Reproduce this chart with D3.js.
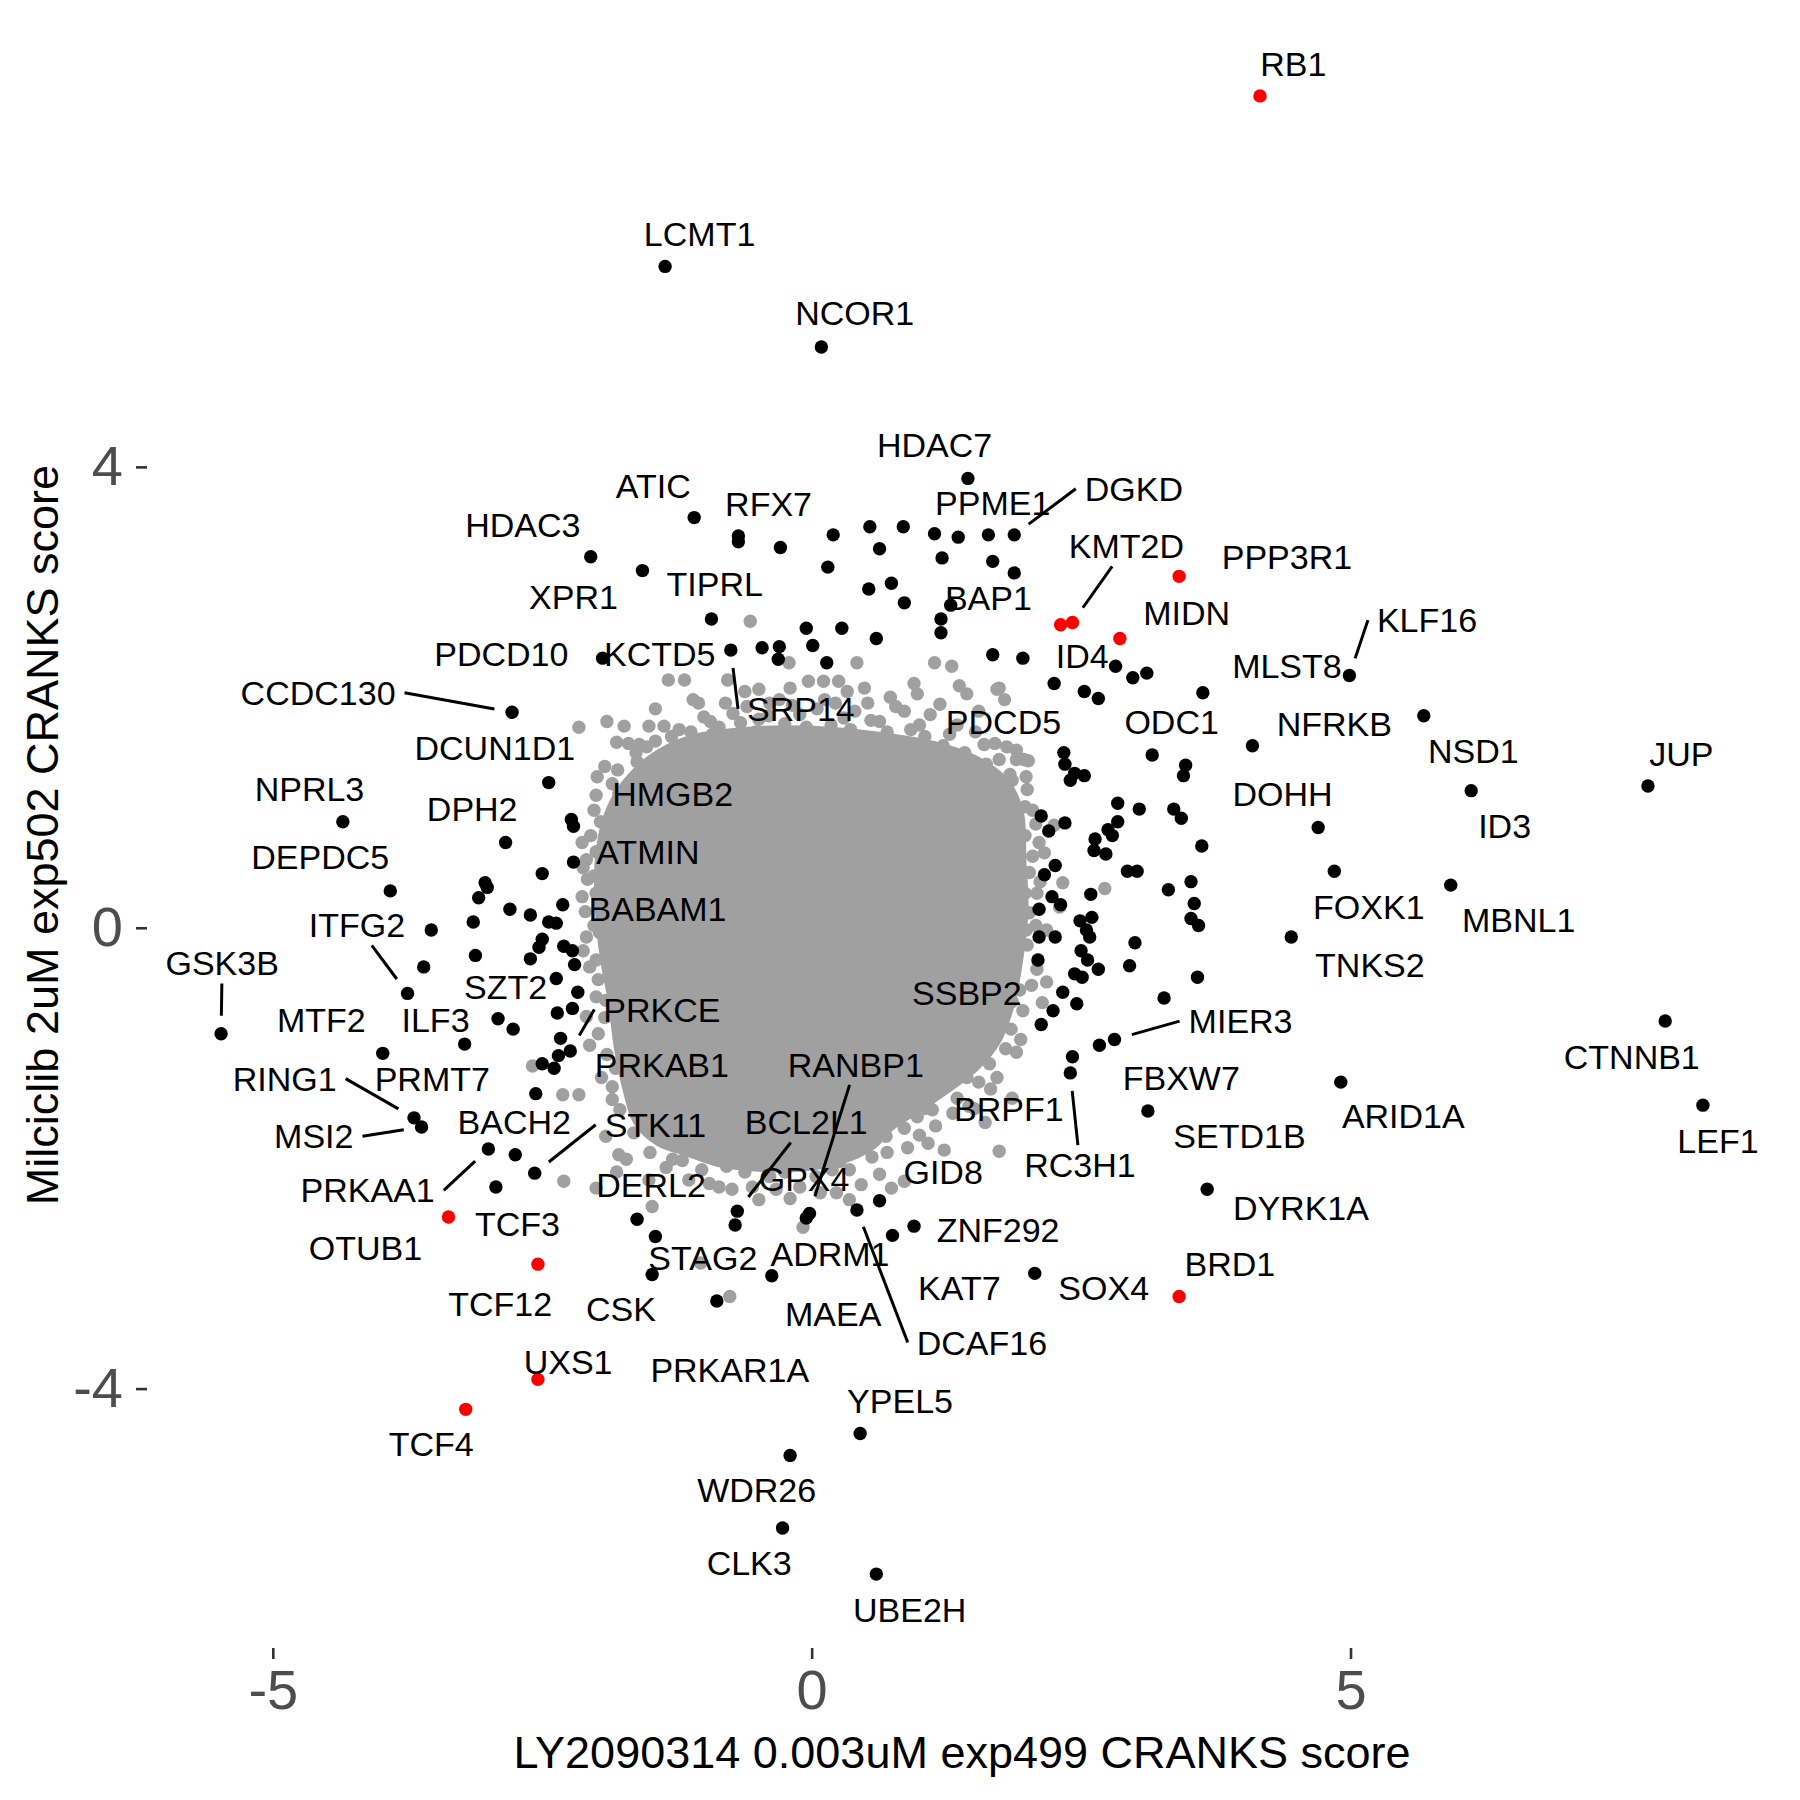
<!DOCTYPE html>
<html lang="en">
<head>
<meta charset="utf-8">
<title>CRANKS score comparison</title>
<script src="https://d3js.org/d3.v7.min.js"></script>
<style>
html,body {margin:0; padding:0; background:#fff;}
svg {display:block;}
</style>
</head>
<body>
<script>
// x = LY2090314 0.003uM exp499, y = Milciclib 2uM exp502 (CRANKS scores)

// dense middle of the grey (non-hit) cloud, outline only
const greyCore = [[-1.46,1.46],[-1.14,1.61],[-0.67,1.68],[-0.21,1.70],[0.26,1.68],[0.72,1.63],[1.14,1.56],[1.51,1.44],[1.79,1.24],[1.91,0.98],[1.93,0.59],[1.95,0.16],[1.90,-0.28],[1.82,-0.67],[1.70,-0.97],[1.51,-1.19],[1.28,-1.36],[1.00,-1.54],[0.72,-1.71],[0.54,-1.88],[0.26,-2.00],[-0.11,-2.06],[-0.49,-2.06],[-0.86,-2.02],[-1.14,-1.93],[-1.41,-1.84],[-1.60,-1.67],[-1.69,-1.41],[-1.77,-1.06],[-1.83,-0.63],[-1.90,-0.28],[-1.95,0.16],[-1.95,0.59],[-1.88,0.94],[-1.74,1.20]]

// grey points around the edge of the cloud
const greyPts = [
  [-0.57,2.66],[-1.33,2.15],[-1.18,2.15],[-1.05,1.95],[-0.78,2.15],[-0.73,1.86],[-0.03,2.14],[0.11,2.14],[0.25,2.14],[0.42,2.30],[0.98,2.03],[1.14,2.30],[1.30,2.27],[1.37,2.10],[1.44,2.03],[1.72,2.07],[0.73,2.00],[-1.51,1.75],[-1.37,1.75],[-1.74,1.75],[-1.90,1.79],[-0.94,1.79],[-0.39,1.95],[0.52,1.95],[1.90,1.54],[2.01,1.45],[-0.21,2.30],
  [-0.49,1.81],[-0.11,1.85],[0.30,1.82],[0.63,1.79],[1.00,1.76],[1.28,1.68],[1.60,1.59],[-1.23,1.72],[-0.86,1.74],[-1.60,1.59],[1.74,1.46],[1.84,1.33],[-0.30,1.98],[0.12,1.98],[0.86,1.88],[1.19,1.94],[-0.49,2.07],[0.49,2.08],
  [-1.45,1.62],[-1.30,1.66],[-1.12,1.70],[-1.00,1.83],[-0.92,1.68],[-0.80,1.95],[-0.66,1.78],[-0.60,1.92],[-0.52,1.70],[-0.40,1.84],[-0.25,1.77],[-0.18,1.93],[-0.05,1.74],[0.05,1.90],[0.18,1.76],[0.22,1.95],[0.36,1.72],[0.40,1.88],[0.55,1.80],[0.70,1.70],[0.78,1.92],[0.92,1.72],[1.05,1.66],[1.10,1.85],[1.22,1.58],[1.35,1.76],[1.42,1.52],[1.52,1.70],[1.62,1.42],[1.70,1.60],[1.55,1.88],[0.95,2.12],[0.33,2.05],[-0.20,2.08],[-0.62,2.05],[-1.10,1.98],[-1.45,1.90],[-1.70,1.60],[-1.62,1.44],
  [1.74,2.08],[1.79,1.98],[1.81,1.57],[1.90,1.46],[1.97,1.46],[1.99,1.31],[1.86,1.28],[1.81,1.20],[2.05,1.02],[1.91,1.00],[2.25,0.89],[2.11,0.74],[2.05,0.62],[2.16,0.65],[2.33,0.39],[2.72,0.34],[2.09,0.30],[2.02,0.13],[2.30,0.18],[2.18,-0.02],[1.99,-0.02],[2.18,-0.47],[2.09,-0.36],[2.14,-0.65],[1.93,-0.54],[1.94,-0.97],[1.90,-1.08],[1.72,-1.30],[1.86,-1.48],[1.51,-1.57],[1.74,-1.94],[1.08,-1.87],[0.98,-1.64],[1.05,-1.57],[1.44,-1.30],[1.55,-1.34],[1.22,-1.08],[1.44,-1.10],[1.58,-1.01],[1.76,-0.81],[1.86,-0.64],
  [2.00,1.20],[1.98,1.05],[2.08,0.90],[1.98,0.80],[2.02,0.48],[2.12,0.40],[1.98,0.30],[2.08,0.02],[2.00,-0.15],[2.04,-0.50],[1.96,-0.72],[1.85,-0.88],[1.80,-1.05],[1.66,-1.40],
  [-0.92,-1.95],[-0.79,-2.07],[-0.86,-2.25],[-0.74,-2.27],[-0.39,-2.16],[-0.33,-2.27],[-0.11,-2.25],[0.04,-2.16],[0.19,-2.10],[0.26,-2.03],[0.23,-2.30],[0.46,-2.23],[0.63,-2.14],[0.56,-1.99],[0.86,-2.20],[0.86,-1.74],[0.89,-1.91],[1.61,-1.69],[-0.08,-2.60],[-0.76,-3.20],[0.47,-1.87],[0.69,-1.81],[0.81,-1.64],[1.12,-1.58],[1.31,-1.61],[1.46,-1.55],[-1.03,-2.91],[-1.29,-2.01],[-1.48,-2.42],[-2.00,-2.26],[-2.30,-2.20],[-1.81,-2.12],[-1.72,-2.01],[-1.79,-1.97],[-1.91,-1.81],[-1.85,-1.49],[-1.85,-1.38],[-1.69,-1.29],[-2.16,-1.45],[-2.31,-1.45],[-2.59,-1.20],[-2.06,-1.02],[-2.09,-0.77],[-1.91,-0.63],[-1.85,-0.49],[-2.06,-0.34],[-0.49,-2.36],[-1.14,-2.19],[-1.51,-2.19],[0.35,-2.36],[1.23,-1.93],
  [-1.50,-1.95],[-1.35,-2.08],[-1.20,-2.02],[-1.02,-2.10],[-0.95,-2.22],[-0.62,-2.12],[-0.55,-2.25],[-0.25,-2.12],[-0.20,-2.35],[0.08,-2.30],[0.12,-2.05],[0.35,-2.10],[0.40,-1.95],[0.70,-1.95],[0.74,-2.26],[1.00,-1.80],[1.15,-1.72],[1.35,-1.48],[1.65,-1.18],
  [-2.16,1.74],[-1.81,1.61],[-1.63,1.52],[-1.53,1.57],[-1.39,1.46],[-1.99,1.31],[-1.80,1.37],[-1.57,1.37],[-2.13,0.74],[-2.09,0.59],[-2.08,0.42],[-2.13,0.27],[-2.09,-0.08],[-1.97,-0.04],[-1.79,0.68],[-1.69,0.88],[-1.79,1.17],[-1.39,1.11],[-1.53,1.28],[-2.02,1.02],
  [-1.92,1.40],[-1.85,1.25],[-2.00,1.15],[-1.96,0.92],[-2.05,0.80],[-2.00,0.66],[-2.12,0.52],[-2.02,0.45],[-2.00,0.30],[-2.10,0.14],[-2.02,0.02],[-2.12,-0.20],[-2.00,-0.28],[-1.98,-0.45],[-2.00,-0.60],[-1.92,-0.78],[-1.98,-0.92],[-1.90,-1.10],[-1.82,-1.22],[-1.78,-1.58],[-1.65,-1.78],[-1.95,-1.30]
]

// hits
const blackPts = [
  [-1.36,5.74],[0.09,5.04],[1.45,3.90],[-1.09,3.56],[-0.68,3.40],[-0.68,3.35],[-0.29,3.30],[0.20,3.41],[0.54,3.48],[0.85,3.48],[1.14,3.42],[1.36,3.39],[1.64,3.41],[1.88,3.41],[0.63,3.29],[1.21,3.21],[1.68,3.18],[1.88,3.08],[0.15,3.13],[-1.57,3.10],[-2.05,3.22],[0.53,2.94],[0.74,2.99],[0.86,2.82],[1.29,2.80],[1.20,2.68],[1.20,2.56],[-0.93,2.68],[-0.05,2.60],[0.28,2.60],[0.60,2.51],[0.01,2.45],[-0.75,2.41],[-0.46,2.43],[-0.30,2.44],[-0.31,2.33],[0.14,2.30],[1.68,2.37],[1.96,2.34],
  [2.82,2.27],[2.98,2.17],[3.11,2.21],[2.25,2.12],[2.53,2.05],[2.66,1.99],[3.63,2.04],[4.99,2.19],[5.68,1.84],[4.09,1.58],[3.16,1.50],[2.34,1.52],[2.35,1.42],[2.40,1.28],[2.53,1.32],[2.44,1.34],[3.47,1.41],[3.45,1.32],[6.12,1.19],[7.76,1.23],[2.84,1.08],[3.04,1.03],[3.36,1.03],[3.43,0.95],[4.70,0.87],[3.62,0.71],[2.13,0.97],[2.35,0.91],[2.20,0.84],[2.75,0.85],[2.84,0.92],[2.79,0.80],[2.63,0.77],[2.62,0.67],[2.73,0.64],[2.93,0.49],[3.02,0.49],[4.85,0.49],[2.26,0.54],[2.16,0.46],[3.52,0.40],[3.31,0.33],[5.93,0.37],[2.59,0.29],[2.23,0.27],[2.31,0.20],[2.11,0.16],[3.55,0.21],[3.52,0.08],[3.59,0.02],[2.49,0.06],[2.60,0.09],[2.55,-0.02],[2.58,-0.08],[2.26,-0.08],[2.11,-0.08],[3.00,-0.13],[4.45,-0.08],[2.50,-0.20],[2.56,-0.28],[2.66,-0.36],[2.44,-0.40],[2.51,-0.43],[2.95,-0.33],[3.58,-0.43],[2.10,-0.28],[2.33,-0.56],[2.46,-0.66],[3.27,-0.61],[2.24,-0.72],[2.13,-0.84],[2.67,-1.02],[2.81,-0.97],[2.42,-1.12],[2.40,-1.26],[3.12,-1.59],[7.92,-0.81],[4.91,-1.34],[8.27,-1.54],[3.67,-2.27],[2.07,-3.00],
  [0.95,-2.59],[0.75,-2.67],[0.63,-2.37],[0.42,-2.45],[-0.02,-2.48],[-0.05,-2.52],[-0.69,-2.46],[-0.71,-2.58],[-0.37,-3.02],[-0.88,-3.24],[-1.62,-2.53],[-1.45,-2.68],[-1.48,-3.01],[0.45,-4.39],[-0.20,-4.58],[-0.27,-5.21],[0.60,-5.61],
  [-2.57,-2.13],[-2.93,-2.25],[-3.00,-1.92],[-2.75,-1.97],[-3.69,-1.65],[-3.62,-1.73],[-2.56,-1.44],[-3.98,-1.09],[-3.22,-1.01],[-2.91,-0.79],[-2.77,-0.88],[-5.48,-0.92],[-3.75,-0.57],[-3.60,-0.34],[-3.53,-0.02],[-3.91,0.32],[-4.35,0.92],[-2.78,1.87],[-1.94,2.34],[-2.44,1.26],[-2.84,0.74],[-2.23,0.94],[-2.21,0.88],[-2.21,0.57],[-2.50,0.47],[-3.03,0.39],[-3.01,0.35],[-3.09,0.26],[-2.80,0.16],[-2.61,0.11],[-2.31,0.20],[-2.44,0.05],[-2.37,0.04],[-3.14,0.05],[-2.50,-0.10],[-2.53,-0.17],[-2.61,-0.27],[-2.30,-0.16],[-2.22,-0.20],[-2.20,-0.32],[-3.12,-0.24],[-2.37,-0.44],[-2.17,-0.56],[-2.22,-0.70],[-2.36,-0.74],[-2.33,-0.96],[-2.24,-1.07],[-2.35,-1.11],[-2.50,-1.18],[-2.39,-1.22]
]

const redPts = [[4.16,7.22],[3.41,3.05],[2.31,2.63],[2.42,2.65],[2.86,2.51],[-3.37,-2.51],[-2.54,-2.92],[-2.54,-3.92],[-3.21,-4.18],[3.41,-3.20]]

// gene name, label centre x, label centre y
const labels = [
  ['RB1',4.47,7.50],['LCMT1',-1.04,6.02],['NCOR1',0.40,5.34],['HDAC7',1.14,4.19],['ATIC',-1.47,3.83],['RFX7',-0.40,3.68],['DGKD',2.99,3.81],['PPME1',1.68,3.69],['HDAC3',-2.68,3.50],['KMT2D',2.92,3.31],['PPP3R1',4.41,3.22],['TIPRL',-0.90,2.98],['XPR1',-2.21,2.87],['BAP1',1.64,2.86],['MIDN',3.48,2.73],['KLF16',5.71,2.67],['PDCD10',-2.88,2.38],['KCTD5',-1.41,2.38],['ID4',2.51,2.36],['MLST8',4.41,2.27],['CCDC130',-4.58,2.04],['SRP14',-0.10,1.90],['PDCD5',1.78,1.79],['ODC1',3.34,1.79],['NFRKB',4.85,1.77],['DCUN1D1',-2.94,1.56],['NSD1',6.14,1.53],['JUP',8.07,1.51],['HMGB2',-1.29,1.16],['NPRL3',-4.66,1.20],['DOHH',4.37,1.16],['DPH2',-3.15,1.03],['ID3',6.43,0.88],['ATMIN',-1.52,0.66],['DEPDC5',-4.56,0.61],['FOXK1',5.17,0.18],['BABAM1',-1.43,0.16],['MBNL1',6.56,0.07],['ITFG2',-4.22,0.02],['GSK3B',-5.47,-0.31],['TNKS2',5.18,-0.32],['SSBP2',1.44,-0.57],['SZT2',-2.84,-0.51],['PRKCE',-1.39,-0.71],['MTF2',-4.55,-0.80],['ILF3',-3.49,-0.80],['MIER3',3.98,-0.81],['CTNNB1',7.61,-1.12],['PRKAB1',-1.39,-1.19],['RANBP1',0.41,-1.19],['RING1',-4.89,-1.31],['PRMT7',-3.52,-1.31],['FBXW7',3.43,-1.30],['BRPF1',1.83,-1.57],['ARID1A',5.49,-1.63],['LEF1',8.41,-1.85],['BACH2',-2.76,-1.69],['STK11',-1.45,-1.71],['BCL2L1',-0.05,-1.69],['MSI2',-4.62,-1.81],['SETD1B',3.97,-1.81],['RC3H1',2.49,-2.06],['GID8',1.22,-2.12],['PRKAA1',-4.12,-2.28],['DERL2',-1.49,-2.23],['GPX4',-0.07,-2.18],['DYRK1A',4.54,-2.43],['TCF3',-2.73,-2.57],['ZNF292',1.73,-2.62],['OTUB1',-4.14,-2.78],['STAG2',-1.01,-2.87],['ADRM1',0.17,-2.83],['BRD1',3.88,-2.92],['KAT7',1.37,-3.13],['SOX4',2.71,-3.13],['TCF12',-2.89,-3.27],['CSK',-1.77,-3.31],['MAEA',0.20,-3.35],['DCAF16',1.58,-3.60],['UXS1',-2.26,-3.77],['PRKAR1A',-0.76,-3.84],['YPEL5',0.82,-4.11],['TCF4',-3.53,-4.48],['WDR26',-0.51,-4.88],['CLK3',-0.58,-5.51],['UBE2H',0.91,-5.92]
]

// labels pushed away from their point get a leader line to it
const segmentTo = {
  DGKD:[1.88,3.41], KMT2D:[2.42,2.65], KLF16:[4.99,2.19], CCDC130:[-2.78,1.87], SRP14:[-0.75,2.41],
  ITFG2:[-3.75,-0.57], GSK3B:[-5.48,-0.92], RING1:[-3.69,-1.65], MSI2:[-3.62,-1.73], PRKAA1:[-3.00,-1.92],
  STK11:[-2.57,-2.13], PRKCE:[-2.24,-1.07], BCL2L1:[-0.69,-2.46], RANBP1:[-0.02,-2.48], DCAF16:[0.42,-2.45],
  RC3H1:[2.40,-1.26], MIER3:[2.81,-0.97]
}

const xTicks = [-5, 0, 5]
const yTicks = [-4, 0, 4]
const xTitle = 'LY2090314 0.003uM exp499 CRANKS score'
const yTitle = 'Milciclib 2uM exp502 CRANKS score'

const W = 1800, H = 1800
const margin = {top: 22, right: 23, bottom: 152, left: 147}
const R = 6.7
const GREY = '#a0a0a0'
const FONT = '"Liberation Sans", Arial, Helvetica, sans-serif'

function padded(ext) {
  // ggplot style 5% expansion
  let p = (ext[1] - ext[0]) * 0.05
  return [ext[0] - p, ext[1] + p]
}

function draw() {
  let all = greyPts.concat(blackPts, redPts)
  let x = d3.scaleLinear().domain(padded(d3.extent(all, d => d[0]))).range([margin.left, W - margin.right])
  let y = d3.scaleLinear().domain(padded(d3.extent(all, d => d[1]))).range([H - margin.bottom, margin.top])

  let svg = d3.select('body').append('svg')
              .attr('width', W).attr('height', H)
              .attr('viewBox', `0 0 ${W} ${H}`)
              .style('font-family', FONT)
  svg.append('rect').attr('width', W).attr('height', H).attr('fill', '#fff')

  // grey cloud
  let core = d3.line().x(d => x(d[0])).y(d => y(d[1])).curve(d3.curveCatmullRomClosed)
  svg.append('path').datum(greyCore)
     .attr('d', core)
     .attr('fill', GREY).attr('stroke', GREY)
     .attr('stroke-width', 2 * R).attr('stroke-linejoin', 'round')

  let dots = function(data, colour) {
    svg.append('g').selectAll('circle').data(data).join('circle')
       .attr('cx', d => x(d[0])).attr('cy', d => y(d[1]))
       .attr('r', R).attr('fill', colour)
  }
  dots(greyPts, GREY)
  dots(blackPts, '#000')
  dots(redPts, '#ff0000')

  // axes
  let xAxis = d3.axisBottom(x).tickValues(xTicks).tickSize(11).tickPadding(10).tickFormat(d => String(d))
  let yAxis = d3.axisLeft(y).tickValues(yTicks).tickSize(11).tickPadding(13).tickFormat(d => String(d))
  let gx = svg.append('g').attr('transform', `translate(0,${H - margin.bottom})`).call(xAxis)
  let gy = svg.append('g').attr('transform', `translate(${margin.left},0)`).call(yAxis)
  for (let g of [gx, gy]) {
    g.select('.domain').remove()
    g.attr('font-family', FONT).attr('font-size', 56)
    g.selectAll('.tick line').attr('stroke', '#333').attr('stroke-width', 2.6)
    g.selectAll('.tick text').attr('fill', '#4d4d4d')
  }

  svg.append('text')
     .attr('x', (margin.left + W - margin.right) / 2).attr('y', 1752)
     .attr('text-anchor', 'middle').attr('dominant-baseline', 'central')
     .attr('font-size', 45).attr('fill', '#000')
     .text(xTitle)
  svg.append('text')
     .attr('transform', `translate(42,${(margin.top + H - margin.bottom) / 2}) rotate(-90)`)
     .attr('text-anchor', 'middle').attr('dominant-baseline', 'central')
     .attr('font-size', 45).attr('fill', '#000')
     .text(yTitle)

  // gene labels
  let segG = svg.append('g')
  let lab = svg.append('g').attr('font-size', 34).attr('fill', '#000')
  lab.selectAll('text').data(labels).join('text')
     .attr('x', d => x(d[1])).attr('y', d => y(d[2]))
     .attr('text-anchor', 'middle').attr('dominant-baseline', 'central')
     .text(d => d[0])

  // leader lines, ggrepel-like: side midpoint when the point is left/right of the box,
  // otherwise where the line to the label centre crosses the top/bottom edge
  lab.selectAll('text').each(function(d) {
    let target = segmentTo[d[0]]
    if (!target) return
    let b = this.getBBox()
    let x0 = b.x - 9, x1 = b.x + b.width + 9, y0 = b.y - 1, y1 = b.y + b.height + 1
    let px = x(target[0]), py = y(target[1])
    let cx = b.x + b.width / 2, cy = b.y + b.height / 2
    let ex, ey
    if (px < x0) { ex = x0; ey = cy }
    else if (px > x1) { ex = x1; ey = cy }
    else {
      ey = py < y0 ? y0 : y1
      ex = px + (cx - px) * (ey - py) / (cy - py)
    }
    let dx = ex - px, dy = ey - py
    let len = Math.sqrt(dx * dx + dy * dy)
    if (len < 22) return
    let sx = px + dx * 18 / len, sy = py + dy * 18 / len
    segG.append('line')
        .attr('x1', sx).attr('y1', sy).attr('x2', ex).attr('y2', ey)
        .attr('stroke', '#000').attr('stroke-width', 3)
  })
}

draw()
</script>
</body>
</html>
